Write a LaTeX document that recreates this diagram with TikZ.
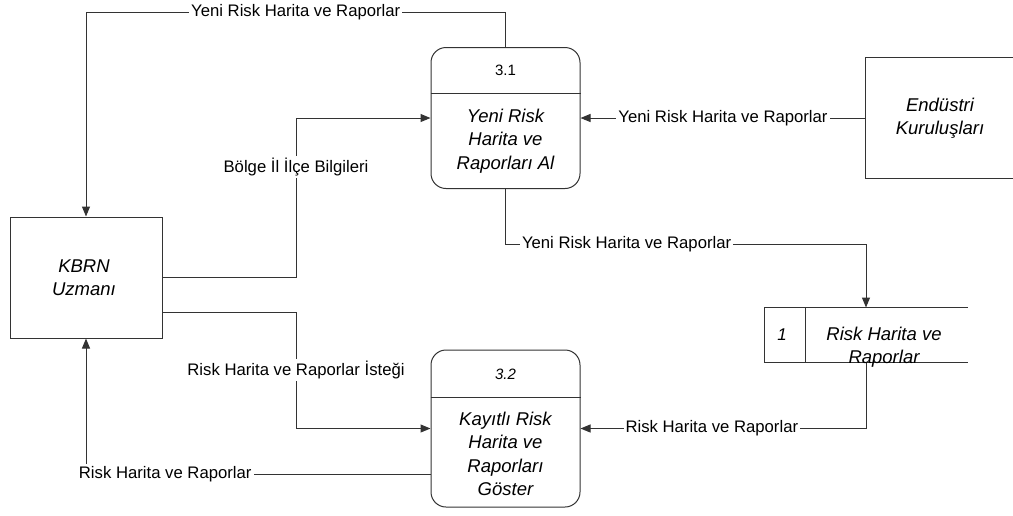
\documentclass[tikz,border=0pt]{standalone}
\usepackage{fontspec}
\setmainfont{Liberation Sans}
\usetikzlibrary{arrows.meta}

\begin{document}
\begin{tikzpicture}[x=0.5pt, y=-0.5pt, line width=0.5pt,
    flow/.style={draw=black!80, -{Triangle[length=5pt,width=4pt]}},
    lbl/.style={fill=white, inner sep=1pt, font=\fontsize{8.35}{10}\selectfont},
    proc/.style={draw=black!80, rounded corners=7.5pt, minimum width=74.5pt},
    txt/.style={align=center, inner sep=0pt, font=\fontsize{9.25}{11.75}\selectfont\itshape},
    num/.style={inner sep=0pt, font=\fontsize{7.5}{9}\selectfont}]

      \useasboundingbox (0,0) rectangle (1013,515);

      % external entities
      \node[draw=black!80, minimum width=76pt, minimum height=60.5pt] (kbrn) at (86,277.5) {};
      \node[txt] (kbrnt) at (84,277.5) {KBRN\\Uzmanı};

      \node[minimum width=73.5pt, minimum height=60pt] (endu) at (939.5,118) {};
      \draw[black!80] (endu.north east) -- (endu.north west)
      -- (endu.south west) -- (endu.south east);
      \node[txt] (endut) at (940,118) {Endüstri\\Kuruluşları};

      % process 3.1
      \node[proc, minimum height=70.5pt] (p31) at (505.5,118) {};
      \draw[black!80] (p31.west |- 0,93) -- (p31.east |- 0,93);
      \node[num] (n31) at (505.5,70) {3.1};
      \node[txt] (p31t) at (505.5,141) {Yeni Risk\\Harita ve\\Raporları Al};

      % process 3.2
      \node[proc, minimum height=78.5pt] (p32) at (505.5,428.5) {};
      \draw[black!80] (p32.west |- 0,397) -- (p32.east |- 0,397);
      \node[num, font=\fontsize{7.5}{9}\selectfont\itshape] (n32) at (505.5,374) {3.2};
      \node[txt] (p32t) at (505.5,454) {Kayıtlı Risk\\Harita ve\\Raporları\\Göster};

      % data store, open on the right
      \node[minimum width=101pt, minimum height=27pt] (store) at (866,335) {};
      \draw[black!80] (store.north east) -- (store.north west)
      -- (store.south west) -- (store.south east);
      \draw[black!80] (805,308) -- (805,362);
      \node[num, font=\fontsize{8.5}{10}\selectfont\itshape] (s1) at (782,335) {1};
      \node[txt] (storet) at (884,347) {Risk Harita ve\\Raporlar};

      % flows round process 3.1
      \draw[flow] (p31.north) -- ++(0,-35)
      -| node[lbl, pos=0.25] {Yeni Risk Harita ve Raporlar} (kbrn.north);

      \draw[flow] (kbrn.east) -| node[lbl, pos=0.845] {Bölge İl İlçe Bilgileri}
      (296,118) -- (p31.west);

      \draw[flow] (endu.west) -- node[lbl] {Yeni Risk Harita ve Raporlar} (p31.east);

      \draw[flow] (p31.south) -- ++(0,55)
      -| node[lbl, pos=0.168] {Yeni Risk Harita ve Raporlar} (store.north);

      % flows round process 3.2
      \draw[flow] (store.south) |- node[lbl, pos=0.77] {Risk Harita ve Raporlar} (p32.east);

      \draw[flow] ([yshift=-17.25pt]kbrn.east)
      -| node[lbl, pos=0.75] {Risk Harita ve Raporlar İsteği} (296,428.5) -- (p32.west);

      \draw[flow] ([yshift=-22.75pt]p32.west)
      -| node[lbl, pos=0.385] {Risk Harita ve Raporlar} (kbrn.south);
    \end{tikzpicture}
\end{document}
